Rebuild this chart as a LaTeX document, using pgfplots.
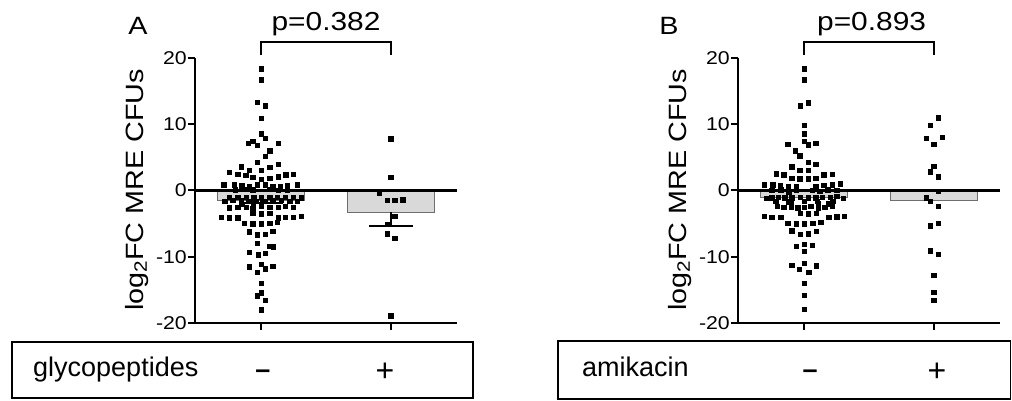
\documentclass[border=0pt]{standalone}
\usepackage{pgfplots}
\pgfplotsset{compat=1.18}
\usepackage{fontspec}
\setmainfont{Liberation Sans}
\newfontfamily\plotfont[FakeStretch=1.15]{Liberation Sans}
\definecolor{barfill}{RGB}{217,217,217}
\definecolor{bardraw}{RGB}{110,110,110}
\begin{document}
\begin{tikzpicture}
\path[use as bounding box] (0pt,0pt) rectangle (1012pt,401pt);
\pgfplotsset{panel/.style={scale only axis, width=262pt, height=265pt,
  xmin=-0.51, xmax=1.51, ymin=-20, ymax=20,
  axis lines=left, axis line style={-, line width=2.2pt},
  xtick={0,1}, xticklabels={}, ytick={-20,-10,0,10,20}, yticklabels={-20,-10,0,10,20},
  tick align=outside, major tick length=7pt, tick style={line width=2pt, black},
  yticklabel style={font=\plotfont\fontsize{18.5}{18.5}\selectfont, inner xsep=1pt},
  clip=false}}
% ---------------- Panel A ----------------
\begin{axis}[panel, at={(195pt,78pt)}, anchor=south west]
\addplot[ybar, bar width=0.67, fill=barfill, draw=bardraw, line width=1pt,
  error bars/.cd, y dir=minus, y explicit,
  error bar style={line width=2.5pt, draw=black},
  error mark options={rotate=90, mark size=22pt, line width=2.5pt, draw=black}]
  coordinates {(0,-1.45) -= (0,0.45) (1,-3.3) -= (0,2.05)};
\addplot[line width=3pt, black] coordinates {(-0.51,0) (1.51,0)};
\addplot[only marks, mark=square*, mark size=2.2pt, black] table {
x y
0 18.4
0 16.7
-0.03 13.3
0.03 12.8
0 10.9
0 8.6
0.03 7.9
-0.1 7.1
-0.065 7.4
-0.03 6.8
0.13 7.1
0.065 6.0
0.03 5.2
-0.03 4.3
0.13 4.0
-0.155 3.6
0.065 3.5
-0.245 2.8
-0.18 2.5
-0.12 2.3
-0.09 3.1
0 3.1
-0.065 2.0
0 1.7
0.065 1.9
0.13 2.1
0.19 2.4
0.245 2.5
-0.29 0.9
-0.21 0.9
-0.15 0.7
-0.09 0.6
-0.03 0.9
0.03 0.9
0.09 0.6
0.145 0.6
0.2 0.8
0.28 0.9
-0.2 0.1
-0.13 0.2
-0.065 0.1
0.065 0.2
0.13 0.0
0.2 0.1
-0.245 -1.0
-0.18 -1.0
-0.116 -1.0
-0.057 -1.1
0 -1.0
0.065 -1.0
0.124 -1.0
0.186 -1.0
0.245 -1.0
0.31 -1.1
-0.28 -1.6
-0.22 -1.5
-0.155 -1.5
-0.1 -1.6
-0.04 -1.6
0.026 -1.6
0.09 -1.5
0.155 -1.5
0.22 -1.6
0.28 -1.6
-0.15 -2.1
-0.06 -2.0
-0.245 -2.6
-0.18 -2.5
-0.116 -2.5
-0.065 -2.7
0 -2.4
0.065 -2.5
0.13 -2.5
0.186 -2.4
0.245 -2.5
-0.065 -3.4
0 -3.5
0.065 -3.4
-0.31 -4.0
-0.245 -4.1
-0.18 -4.1
0.13 -4.1
0.186 -4.0
0.245 -4.0
0.31 -3.9
-0.13 -4.9
-0.065 -5.0
0 -5.0
0.065 -4.9
0.124 -4.8
-0.09 -6.2
0.09 -6.1
-0.03 -6.7
0.03 -6.6
-0.03 -8.0
0.065 -8.4
0.095 -8.5
-0.09 -9.3
-0.025 -9.7
0.03 -9.5
0 -11.1
-0.09 -11.5
0.09 -11.4
0.03 -11.8
-0.03 -12.3
0 -14.0
0 -15.4
-0.03 -15.9
0.03 -16.6
0 -18.0
};
\addplot[only marks, mark=square*, mark size=2.2pt, black] table {
x y
1 7.8
1 2.0
0.91 -0.4
0.974 -1.45
1.03 -1.5
1.09 -1.4
1.03 -3.9
0.974 -5.05
0.974 -6.5
1.03 -7.2
1 -18.9
};
\draw[line width=1.5pt] (axis cs:0,20.45) -- (axis cs:0,22.4) -- (axis cs:1,22.4) -- (axis cs:1,20.45);
\node[anchor=base, font=\plotfont\fontsize{26}{26}\selectfont, inner sep=0pt] at (axis cs:0.5,24.1) {p=0.382};
\end{axis}
% ---------------- Panel B ----------------
\begin{axis}[panel, at={(738pt,78pt)}, anchor=south west]
\addplot[ybar, bar width=0.67, fill=barfill, draw=bardraw, line width=1pt]
  coordinates {(0,-1.05) (1,-1.5)};
\addplot[line width=3pt, black] coordinates {(-0.51,0) (1.51,0)};
\addplot[only marks, mark=square*, mark size=2.2pt, black] table {
x y
0 18.4
0 16.7
-0.03 12.8
0.03 13.25
0 9.9
0 8.6
0 7.4
0.03 6.9
0.09 7.1
-0.127 7.0
-0.067 6.0
-0.034 5.25
0.03 4.3
0.09 4.0
-0.095 3.6
-0.034 3.1
0.03 3.1
-0.217 2.55
-0.158 2.4
-0.095 1.9
-0.034 1.8
0.03 1.8
0.09 1.9
0.152 2.4
0.215 2.5
-0.307 0.9
-0.243 0.9
-0.183 0.7
-0.121 0.6
-0.062 0.6
0.09 0.6
0.152 0.8
0.215 0.9
0.276 1.0
-0.25 0.0
-0.18 0.1
-0.12 -0.2
-0.06 0.1
0.06 0.0
0.12 -0.1
0.18 0.1
0.25 0.0
-0.29 -1.2
-0.25 -1.1
-0.2 -1.0
-0.15 -1.1
-0.095 -1.1
-0.03 -1.0
0.03 -1.1
0.09 -1.1
0.14 -1.0
0.2 -1.0
0.25 -0.9
0.3 -1.2
-0.22 -1.6
-0.12 -1.7
0.0 -1.6
0.1 -1.6
0.22 -1.6
-0.1 -2.0
0.106 -2.0
0.19 -2.0
-0.21 -2.4
-0.157 -2.5
-0.1 -2.5
-0.05 -2.6
0 -2.5
0.05 -2.4
0.106 -2.6
0.158 -2.5
0.214 -2.4
-0.03 -3.45
0.03 -3.5
0.093 -3.4
-0.31 -3.9
-0.25 -4.0
-0.18 -4.0
0.19 -4.0
0.25 -3.95
0.31 -3.9
-0.127 -4.9
-0.062 -5.0
0 -5.0
0.067 -4.9
0.127 -4.8
-0.095 -6.05
0.093 -6.1
-0.03 -6.6
0.033 -6.5
0 -8.1
-0.062 -8.4
0.062 -8.3
0 -9.2
0 -11.0
-0.095 -11.3
0.093 -11.35
-0.036 -11.85
0.034 -12.35
0 -13.95
0 -15.8
0 -17.9
};
\addplot[only marks, mark=square*, mark size=2.2pt, black] table {
x y
1.034 11.0
0.972 9.9
0.94 7.9
1.062 8.0
1 7.0
1 3.65
0.972 2.85
1.034 2.1
1.034 -0.1
0.94 -1.1
0.972 -1.6
1.034 -2.4
0.972 -5.3
1.034 -4.95
0.972 -9.1
1.034 -9.6
1 -12.75
1 -15.35
1 -16.6
};
\draw[line width=1.5pt] (axis cs:0,20.45) -- (axis cs:0,22.4) -- (axis cs:1,22.4) -- (axis cs:1,20.45);
\node[anchor=base, font=\plotfont\fontsize{26}{26}\selectfont, inner sep=0pt] at (axis cs:0.52,24.1) {p=0.893};
\end{axis}
% ---------------- labels ----------------
\node[anchor=base, font=\plotfont\fontsize{25}{25}\selectfont, inner sep=0pt] at (138pt,366pt) {A};
\node[anchor=base, font=\plotfont\fontsize{25}{25}\selectfont, inner sep=0pt] at (669pt,366pt) {B};
\node[rotate=90, font=\plotfont\fontsize{25}{25}\selectfont, inner sep=0pt] at (137pt,211pt) {log\raisebox{-0.25ex}{\plotfont\fontsize{18}{18}\selectfont 2}FC MRE CFUs};
\node[rotate=90, font=\plotfont\fontsize{25}{25}\selectfont, inner sep=0pt] at (680pt,211pt) {log\raisebox{-0.25ex}{\plotfont\fontsize{18}{18}\selectfont 2}FC MRE CFUs};
% ---------------- bottom boxes ----------------
\draw[line width=1.6pt] (12pt,3pt) rectangle (473pt,59pt);
\draw[line width=1.6pt] (558pt,2pt) rectangle (1010.5pt,60pt);
\node[anchor=base west, font=\fontsize{27}{27}\selectfont, inner sep=0pt] at (33pt,24pt) {glycopeptides};
\node[font=\fontsize{27}{27}\selectfont\bfseries, inner sep=0pt] at (263pt,27pt) {–};
\node[font=\fontsize{32}{32}\selectfont, inner sep=0pt] at (385pt,28.5pt) {+};
\node[anchor=base west, font=\fontsize{27}{27}\selectfont, inner sep=0pt] at (582pt,24.3pt) {amikacin};
\node[font=\fontsize{27}{27}\selectfont\bfseries, inner sep=0pt] at (810pt,27pt) {–};
\node[font=\fontsize{32}{32}\selectfont, inner sep=0pt] at (937pt,28.5pt) {+};
\end{tikzpicture}
\end{document}
